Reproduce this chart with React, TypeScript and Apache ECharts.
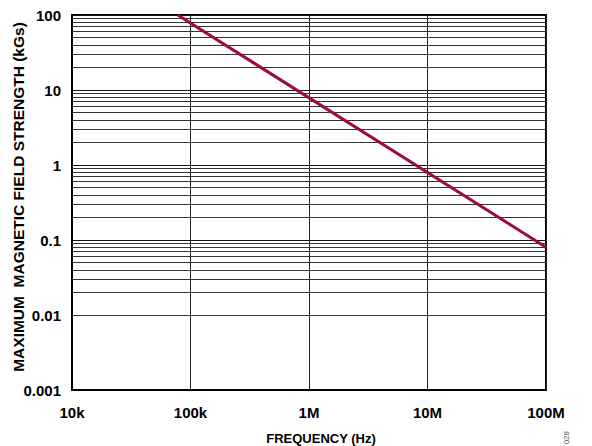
import React, { useEffect, useRef } from "react";
import * as echarts from "echarts";

const lineFreqHz = [78000, 100000000];
const lineFieldKGs = [100, 0.08];
const xTickValues = [1e4, 1e5, 1e6, 1e7, 1e8];
const xTickLabels = ["10k", "100k", "1M", "10M", "100M"];
const yTickValues = [0.001, 0.01, 0.1, 1, 10, 100];
const yTickLabels = ["0.001", "0.01", "0.1", "1", "10", "100"];
const minorMultipliers = [2, 3, 4, 5, 6, 7, 8, 9];
const minorDecades = [0.001, 0.01, 0.1, 1, 10];
const xTitle = "FREQUENCY (Hz)";
const yTitle = "MAXIMUM  MAGNETIC FIELD STRENGTH (kGs)";
const figureId = "028";

function labelFor(v: number, vals: number[], labels: string[]) {
  for (let i = 0; i < vals.length; i++) {
    if (Math.abs(Math.log10(v) - Math.log10(vals[i])) < 1e-6) return labels[i];
  }
  return "";
}

export default function App() {
  const ref = useRef<HTMLDivElement>(null);
  useEffect(() => {
    if (!ref.current) return;
    const chart = echarts.init(ref.current, null, { renderer: "svg" });
    const minorLines: any[] = [];
    minorDecades.forEach((d) =>
      minorMultipliers.forEach((m) => minorLines.push({ yAxis: +(d * m).toPrecision(3) }))
    );
    const font = "'Liberation Sans', Arial, sans-serif";
    chart.setOption({
      animation: false,
      grid: {
        left: 72,
        right: 46,
        top: 15,
        bottom: 56,
        show: true,
        borderColor: "#000",
        borderWidth: 2,
        backgroundColor: "transparent",
      },
      xAxis: {
        type: "log",
        logBase: 10,
        min: 1e4,
        max: 1e8,
        axisLine: { show: true, lineStyle: { color: "#000", width: 2 } },
        axisTick: { show: false },
        axisLabel: {
          margin: 15,
          fontFamily: font,
          fontWeight: "bold",
          fontSize: 15,
          color: "#000",
          formatter: (v: number) => labelFor(v, xTickValues, xTickLabels),
        },
        splitLine: { show: true, lineStyle: { color: "#222", width: 1 } },
      },
      yAxis: {
        type: "log",
        logBase: 10,
        min: 0.001,
        max: 100,
        axisLine: { show: true, lineStyle: { color: "#000", width: 2 } },
        axisTick: { show: false },
        axisLabel: {
          margin: 11,
          fontFamily: font,
          fontWeight: "bold",
          fontSize: 15,
          color: "#000",
          formatter: (v: number) => labelFor(v, yTickValues, yTickLabels),
        },
        splitLine: { show: true, lineStyle: { color: "#111", width: 1.2 } },
      },
      graphic: [
        {
          type: "text",
          x: 321,
          y: 438,
          style: {
            text: xTitle,
            fontFamily: font,
            fontWeight: "bold",
            fontSize: 13,
            fill: "#000",
            align: "center",
            verticalAlign: "middle",
          },
        },
        {
          type: "text",
          x: 18.5,
          y: 197,
          rotation: Math.PI / 2,
          style: {
            text: yTitle,
            fontFamily: font,
            fontWeight: "bold",
            fontSize: 15.5,
            fill: "#000",
            align: "center",
            verticalAlign: "middle",
          },
        },
        {
          type: "text",
          x: 562,
          y: 431,
          rotation: Math.PI / 2,
          style: {
            text: figureId,
            fontFamily: font,
            fontSize: 8,
            fill: "#555",
            align: "right",
            verticalAlign: "top",
          },
        },
      ],
      series: [
        {
          type: "line",
          data: lineFreqHz.map((f, i) => [f, lineFieldKGs[i]]),
          symbol: "none",
          lineStyle: { color: "#9B0D38", width: 3 },
          z: 5,
          markLine: {
            silent: true,
            symbol: "none",
            label: { show: false },
            lineStyle: { color: "#333", width: 1.1, type: "solid" },
            data: minorLines,
            z: 1,
          },
        },
      ],
    });
    return () => chart.dispose();
  }, []);
  return <div ref={ref} style={{ width: 592, height: 446, position: "absolute", left: 0, top: 0 }} />;
}
